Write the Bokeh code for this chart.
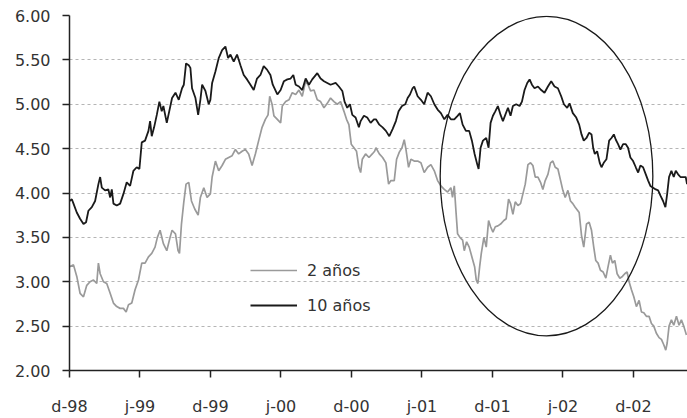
from bokeh.plotting import figure
from bokeh.models import FixedTicker, PrintfTickFormatter, Legend, LegendItem, Range1d
from bokeh.embed import file_html
from bokeh.resources import INLINE

# x = months since December 1998
tick_months = [0, 6, 12, 18, 24, 30, 36, 42, 48]
tick_labels = ["d-98", "j-99", "d-99", "j-00", "d-00", "j-01", "d-01", "j-02", "d-02"]
y_ticks = [2.0, 2.5, 3.0, 3.5, 4.0, 4.5, 5.0, 5.5, 6.0]

months_10y = [
    0.00, 0.20, 0.34, 0.62, 0.90, 1.19, 1.41, 1.61, 1.90, 2.18, 2.46, 2.61, 2.75, 3.03, 3.31, 3.46,
    3.60, 3.74, 4.02, 4.31, 4.59, 4.87, 5.16, 5.44, 5.72, 5.95, 6.15, 6.43, 6.72, 6.86, 7.00, 7.20,
    7.43, 7.65, 7.85, 7.99, 8.28, 8.73, 9.02, 9.30, 9.58, 9.73, 9.92, 10.15, 10.29, 10.43, 10.72,
    10.95, 11.14, 11.29, 11.57, 11.85, 11.99, 12.14, 12.42, 12.70, 12.99, 13.27, 13.50, 13.70, 13.98,
    14.26, 14.55, 14.83, 15.11, 15.40, 15.68, 15.96, 16.25, 16.53, 16.81, 17.10, 17.30, 17.69, 17.97,
    18.25, 18.54, 18.82, 19.05, 19.25, 19.53, 19.81, 20.10, 20.38, 20.66, 21.09, 21.37, 21.66, 21.94,
    22.22, 22.65, 22.93, 23.22, 23.41, 23.64, 23.87, 24.07, 24.35, 24.63, 24.78, 25.06, 25.34, 25.63,
    25.91, 26.08, 26.37, 26.65, 26.93, 27.22, 27.50, 27.78, 28.01, 28.30, 28.58, 28.78, 28.98, 29.20,
    29.34, 29.63, 29.91, 30.19, 30.48, 30.76, 31.05, 31.33, 31.61, 31.90, 32.18, 32.46, 32.75, 33.03,
    33.23, 33.46, 33.74, 34.02, 34.25, 34.48, 34.71, 34.82, 34.99, 35.19, 35.47, 35.67, 35.84, 36.04,
    36.24, 36.46, 36.69, 36.89, 37.09, 37.32, 37.54, 37.74, 38.02, 38.31, 38.51, 38.73, 38.96, 39.16,
    39.36, 39.58, 39.87, 40.15, 40.43, 40.72, 41.00, 41.28, 41.57, 41.85, 42.08, 42.36, 42.56, 42.84,
    43.13, 43.38, 43.58, 43.77, 44.00, 44.23, 44.43, 44.57, 44.71, 44.91, 45.13, 45.28, 45.47, 45.70,
    45.93, 46.13, 46.33, 46.50, 46.69, 46.89, 47.12, 47.35, 47.54, 47.74, 47.97, 48.20, 48.40, 48.59,
    48.82, 49.05, 49.25, 49.44, 49.67, 49.90, 50.10, 50.30, 50.52, 50.72, 50.87, 51.03, 51.23, 51.43,
    51.60, 51.80, 52.00, 52.22, 52.45, 52.56,
]
rate_10y = [
    3.91, 3.93, 3.88, 3.78, 3.71, 3.65, 3.67, 3.80, 3.84, 3.91, 4.10, 4.18, 4.06, 4.03, 4.04, 3.95,
    4.04, 3.88, 3.86, 3.88, 3.99, 4.12, 4.08, 4.25, 4.29, 4.27, 4.57, 4.59, 4.70, 4.81, 4.64, 4.74,
    4.88, 5.03, 4.92, 4.98, 4.79, 5.07, 5.13, 5.05, 5.18, 5.22, 5.46, 5.44, 5.41, 5.18, 5.07,
    4.88, 5.05, 5.22, 5.15, 5.00, 5.05, 5.24, 5.37, 5.52, 5.61, 5.65, 5.52, 5.56, 5.48,
    5.56, 5.44, 5.33, 5.28, 5.22, 5.16, 5.29, 5.33, 5.43, 5.39, 5.33, 5.22, 5.11, 5.16,
    5.26, 5.28, 5.29, 5.33, 5.22, 5.20, 5.16, 5.29, 5.22, 5.28, 5.35, 5.29, 5.26, 5.24,
    5.22, 5.24, 5.20, 5.15, 5.03, 4.96, 5.00, 4.88, 4.85, 4.74, 4.81, 4.87, 4.85, 4.79,
    4.83, 4.83, 4.77, 4.74, 4.70, 4.64, 4.72, 4.81, 4.92, 4.98, 5.00, 5.07, 5.11, 5.18,
    5.20, 5.09, 5.05, 5.00, 5.13, 5.09, 5.00, 4.94, 4.90, 4.83, 4.88, 4.83, 4.83, 4.87,
    4.90, 4.77, 4.70, 4.70, 4.59, 4.44, 4.32, 4.27, 4.51, 4.59, 4.62, 4.51, 4.79, 4.87,
    4.92, 4.98, 4.88, 4.81, 4.88, 4.96, 4.87, 4.98, 5.00, 4.98, 5.03, 5.16, 5.24, 5.28,
    5.22, 5.18, 5.20, 5.16, 5.13, 5.20, 5.26, 5.20, 5.18, 5.09, 5.00, 4.96, 5.01, 4.90,
    4.85, 4.77, 4.66, 4.59, 4.62, 4.68, 4.66, 4.51, 4.44, 4.47, 4.34, 4.29, 4.34, 4.38,
    4.59, 4.62, 4.66, 4.60, 4.55, 4.49, 4.55, 4.55, 4.51, 4.40, 4.36, 4.29, 4.23, 4.31,
    4.29, 4.21, 4.14, 4.08, 4.06, 4.04, 4.03, 3.97, 3.91, 3.84, 3.99, 4.18, 4.25, 4.18,
    4.25, 4.21, 4.18, 4.18, 4.18, 4.10,
]

months_2y = [
    0.00, 0.34, 0.62, 0.90, 1.19, 1.47, 1.75, 2.04, 2.32, 2.46, 2.61, 2.89, 3.17, 3.46, 3.74, 4.02,
    4.31, 4.59, 4.82, 5.02, 5.30, 5.58, 5.87, 6.15, 6.43, 6.72, 7.00, 7.28, 7.48, 7.71, 7.99, 8.28,
    8.56, 8.73, 9.02, 9.24, 9.36, 9.53, 9.73, 9.92, 10.15, 10.38, 10.66, 10.95, 11.14, 11.43, 11.71,
    11.99, 12.14, 12.42, 12.70, 12.99, 13.27, 13.55, 13.84, 14.12, 14.40, 14.69, 14.97, 15.25, 15.54,
    15.82, 16.10, 16.39, 16.67, 16.90, 17.04, 17.24, 17.40, 17.69, 17.97, 18.11, 18.40, 18.68, 18.96,
    19.25, 19.53, 19.81, 20.10, 20.30, 20.52, 20.81, 21.09, 21.37, 21.66, 21.94, 22.22, 22.51, 22.79,
    23.07, 23.36, 23.58, 23.78, 23.98, 24.21, 24.43, 24.63, 24.78, 24.92, 25.20, 25.49, 25.77, 25.97,
    26.08, 26.37, 26.65, 26.93, 27.16, 27.36, 27.64, 27.84, 28.07, 28.30, 28.49, 28.64, 28.86, 29.06,
    29.34, 29.63, 29.91, 30.19, 30.48, 30.76, 31.05, 31.33, 31.61, 31.90, 32.18, 32.46, 32.60, 32.75,
    32.89, 33.03, 33.23, 33.46, 33.60, 33.80, 34.02, 34.25, 34.48, 34.62, 34.76, 34.91, 35.05, 35.27,
    35.47, 35.67, 35.84, 36.04, 36.24, 36.46, 36.69, 36.97, 37.17, 37.37, 37.54, 37.74, 37.94, 38.17,
    38.39, 38.59, 38.79, 39.02, 39.24, 39.44, 39.64, 39.87, 40.09, 40.29, 40.49, 40.72, 40.94, 41.14,
    41.34, 41.57, 41.80, 41.99, 42.19, 42.42, 42.64, 42.84, 43.04, 43.38, 43.58, 43.77, 44.00, 44.23,
    44.43, 44.62, 44.79, 44.99, 45.19, 45.42, 45.65, 45.84, 46.04, 46.21, 46.41, 46.61, 46.84, 47.06,
    47.26, 47.46, 47.63, 47.83, 48.03, 48.25, 48.48, 48.68, 48.88, 49.10, 49.33, 49.53, 49.73, 49.95,
    50.18, 50.38, 50.58, 50.75, 50.87, 51.03, 51.23, 51.43, 51.66, 51.88, 52.08, 52.28, 52.51,
]
rate_2y = [
    3.17, 3.19, 3.06, 2.87, 2.83, 2.96, 3.00, 3.02, 2.98, 3.21, 3.09, 3.00, 2.98, 2.87, 2.76, 2.72,
    2.70, 2.70, 2.66, 2.74, 2.76, 2.91, 3.02, 3.21, 3.21, 3.28, 3.32, 3.39, 3.50, 3.58, 3.43, 3.35,
    3.50, 3.58, 3.54, 3.35, 3.32, 3.65, 3.90, 4.10, 4.12, 3.91, 3.82, 3.75, 3.95, 4.06, 3.95,
    3.99, 4.18, 4.36, 4.25, 4.31, 4.38, 4.40, 4.42, 4.49, 4.44, 4.47, 4.49, 4.44, 4.31,
    4.44, 4.59, 4.74, 4.83, 4.88, 5.09, 5.00, 4.87, 4.83, 4.79, 4.98, 5.03, 5.05, 5.13,
    5.11, 5.16, 5.09, 5.26, 5.22, 5.15, 5.16, 5.05, 5.03, 4.96, 5.01, 5.07, 5.03, 5.00,
    5.03, 4.92, 4.83, 4.77, 4.55, 4.51, 4.47, 4.29, 4.23, 4.38, 4.44, 4.40, 4.44, 4.47,
    4.51, 4.44, 4.40, 4.34, 4.10, 4.14, 4.14, 4.38, 4.46, 4.51, 4.60, 4.49, 4.29, 4.38,
    4.36, 4.36, 4.34, 4.23, 4.29, 4.32, 4.25, 4.14, 4.08, 4.04, 4.01, 4.06, 3.95, 4.08,
    3.80, 3.54, 3.50, 3.47, 3.35, 3.45, 3.39, 3.28, 3.17, 3.02, 2.98, 3.17, 3.32, 3.50,
    3.39, 3.69, 3.62, 3.56, 3.62, 3.63, 3.65, 3.69, 3.71, 3.93, 3.88, 3.76, 3.90, 3.86,
    3.88, 3.99, 4.10, 4.32, 4.34, 4.31, 4.18, 4.18, 4.12, 4.04, 4.14, 4.21, 4.34, 4.36,
    4.29, 4.27, 4.14, 4.03, 3.95, 4.03, 3.91, 3.88, 3.84, 3.78, 3.52, 3.39, 3.65, 3.67,
    3.58, 3.39, 3.24, 3.21, 3.13, 3.11, 3.04, 3.17, 3.30, 3.21, 3.24, 3.09, 3.04, 3.06,
    3.09, 3.11, 3.00, 2.91, 2.83, 2.72, 2.79, 2.66, 2.65, 2.61, 2.61, 2.53, 2.50, 2.42,
    2.37, 2.35, 2.29, 2.23, 2.31, 2.50, 2.57, 2.51, 2.61, 2.51, 2.57, 2.50, 2.40,
]

# highlighted period (ellipse), in data units
ell_center_month = 40.6
ell_center_rate = 4.19
ell_width_months = 18.1
ell_height_rate = 3.6

FONT = "DejaVu Sans"
TXT = "#333333"

p = figure(width=687, height=418, output_backend="svg", toolbar_location=None,
           x_range=Range1d(0, 52.6), y_range=Range1d(2.0, 6.0),
           min_border_left=69, min_border_right=0, min_border_top=15, min_border_bottom=46)
p.outline_line_color = None
p.background_fill_color = "white"
p.border_fill_color = "white"

r2 = p.line(months_2y, rate_2y, line_color="#9a9a9a", line_width=1.7)
r10 = p.line(months_10y, rate_10y, line_color="#1a1a1a", line_width=1.8)
p.ellipse(x=ell_center_month, y=ell_center_rate, width=ell_width_months, height=ell_height_rate,
          fill_color=None, line_color="#1a1a1a", line_width=1.3)

p.xgrid.visible = False
p.ygrid.grid_line_color = "#b5b5b5"
p.ygrid.grid_line_dash = "3 3"
p.ygrid.grid_line_width = 1

p.yaxis.ticker = FixedTicker(ticks=y_ticks)
p.yaxis.formatter = PrintfTickFormatter(format="%.2f")
p.xaxis.ticker = FixedTicker(ticks=tick_months)
p.xaxis.major_label_overrides = {m: lab for m, lab in zip(tick_months, tick_labels)}

for ax in (p.xaxis, p.yaxis):
    ax.axis_line_color = "#222222"
    ax.axis_line_width = 1.5
    ax.major_tick_line_color = "#222222"
    ax.major_tick_line_width = 1.5
    ax.major_tick_in = 0
    ax.major_tick_out = 7
    ax.minor_tick_line_color = None
    ax.major_label_text_font = FONT
    ax.major_label_text_font_size = "16px"
    ax.major_label_text_color = TXT
p.yaxis.major_label_standoff = 12
p.xaxis.major_label_standoff = 19

legend = Legend(items=[LegendItem(label="2 años", renderers=[r2]),
                       LegendItem(label="10 años", renderers=[r10])],
                location=(181, 55), orientation="vertical",
                glyph_width=47, glyph_height=20, label_height=20, label_standoff=10,
                spacing=15, padding=0, margin=0,
                border_line_color=None, background_fill_alpha=0,
                label_text_font=FONT, label_text_font_size="16px", label_text_color=TXT)
p.add_layout(legend)

open("out.html", "w").write(file_html(p, INLINE))
